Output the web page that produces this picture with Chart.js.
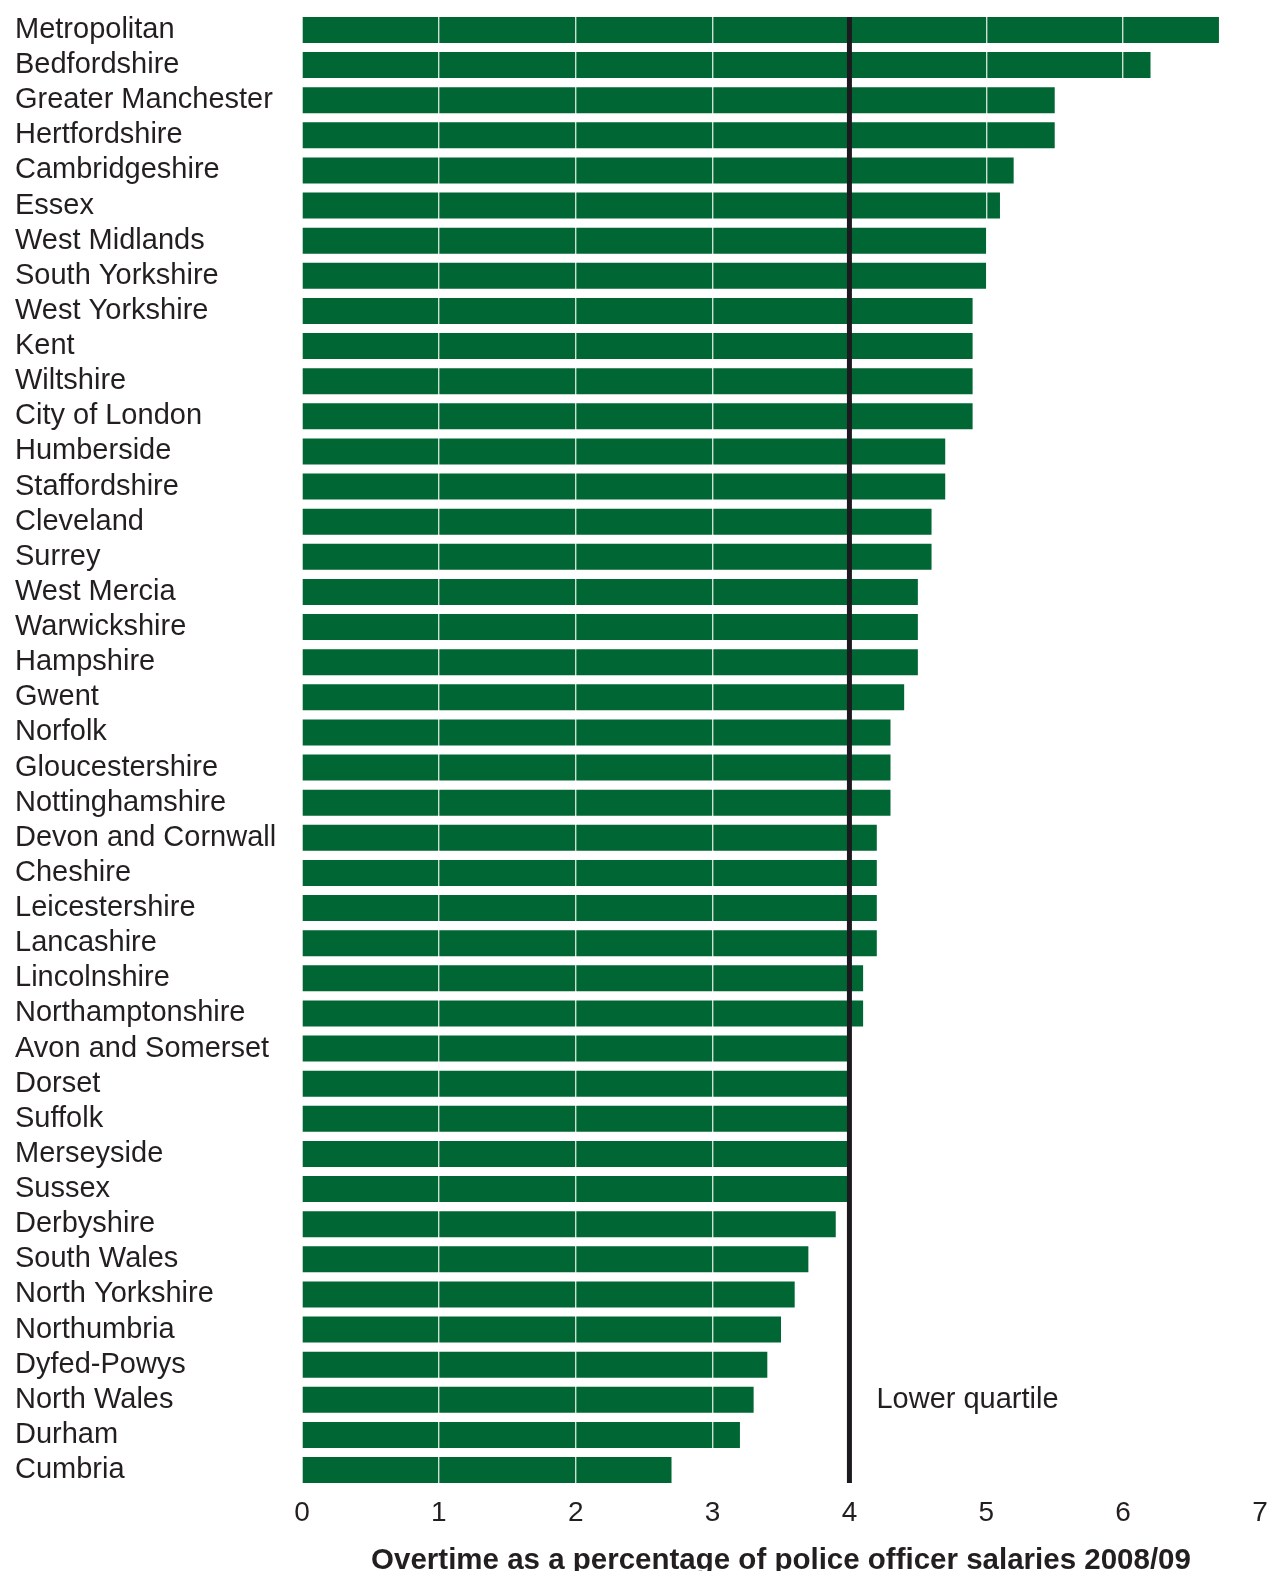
<!DOCTYPE html>
<html>
<head>
<meta charset="utf-8">
<script src="https://cdn.jsdelivr.net/npm/chart.js@4.4.1/dist/chart.umd.min.js"></script>
<style>
  html, body { margin: 0; padding: 0; background: #fff; overflow: hidden; }
  #wrap { width: 1269px; height: 1571px; }
</style>
</head>
<body>
<div id="wrap"><canvas id="myChart"></canvas></div>
<script>
// forces, top to bottom
var forces = [
  'Metropolitan', 'Bedfordshire', 'Greater Manchester', 'Hertfordshire', 'Cambridgeshire',
  'Essex', 'West Midlands', 'South Yorkshire', 'West Yorkshire', 'Kent', 'Wiltshire',
  'City of London', 'Humberside', 'Staffordshire', 'Cleveland', 'Surrey', 'West Mercia',
  'Warwickshire', 'Hampshire', 'Gwent', 'Norfolk', 'Gloucestershire', 'Nottinghamshire',
  'Devon and Cornwall', 'Cheshire', 'Leicestershire', 'Lancashire', 'Lincolnshire',
  'Northamptonshire', 'Avon and Somerset', 'Dorset', 'Suffolk', 'Merseyside', 'Sussex',
  'Derbyshire', 'South Wales', 'North Yorkshire', 'Northumbria', 'Dyfed-Powys',
  'North Wales', 'Durham', 'Cumbria'
];

// overtime as % of salaries 2008/09
var overtime = [
  6.7, 6.2, 5.5, 5.5, 5.2,
  5.1, 5.0, 5.0, 4.9, 4.9, 4.9,
  4.9, 4.7, 4.7, 4.6, 4.6, 4.5,
  4.5, 4.5, 4.4, 4.3, 4.3, 4.3,
  4.2, 4.2, 4.2, 4.2, 4.1,
  4.1, 4.0, 4.0, 4.0, 4.0, 4.0,
  3.9, 3.7, 3.6, 3.5, 3.4,
  3.3, 3.2, 2.7
];

var xTicks = [0, 1, 2, 3, 4, 5, 6, 7];
var lowerQuartile = 4;
var quartileLabel = 'Lower quartile';
var quartileLabelRow = 'North Wales';

var textColor = '#231f20';
var fontFamily = '"Liberation Sans", Arial, Helvetica, sans-serif';

// black line at the lower quartile + its label
var quartilePlugin = {
  id: 'quartile',
  afterDraw: function(chart) {
    var c = chart.ctx;
    var x = chart.scales.x.getPixelForValue(lowerQuartile);
    var bars = chart.getDatasetMeta(0).data;
    var first = bars[0], last = bars[bars.length - 1];
    c.save();
    c.strokeStyle = '#1c1a1f';
    c.lineWidth = 5;
    c.beginPath();
    c.moveTo(x, first.y - first.height / 2);
    c.lineTo(x, last.y + last.height / 2);
    c.stroke();
    c.fillStyle = textColor;
    c.font = '29px ' + fontFamily;
    c.textAlign = 'left';
    c.textBaseline = 'middle';
    c.fillText(quartileLabel, x + 27, chart.scales.y.getPixelForValue(forces.indexOf(quartileLabelRow)));
    c.restore();
  }
};

var ctx = document.getElementById('myChart').getContext('2d');

// eslint-disable-next-line no-unused-vars
var chart = new Chart(ctx, {
  type: 'bar',
  data: {
    labels: forces,
    datasets: [{
      label: 'Overtime',
      backgroundColor: '#006633',
      borderWidth: 0,
      data: overtime,
      barPercentage: 0.74,
      categoryPercentage: 1
    }]
  },
  options: {
    indexAxis: 'y',
    responsive: true,
    maintainAspectRatio: false,
    animation: false,
    layout: { padding: { left: 15, right: 9, top: 12.4, bottom: 0 } },
    plugins: {
      legend: { display: false },
      tooltip: { enabled: false }
    },
    scales: {
      x: {
        type: 'linear',
        min: 0,
        max: 7,
        afterBuildTicks: function(scale) {
          scale.ticks = xTicks.map(function(v) { return { value: v }; });
        },
        afterFit: function(scale) { scale.height = 83.4; },
        grid: {
          z: 1,
          drawTicks: false,
          lineWidth: 1.4,
          color: function(c) {
            return (c.tick && (c.tick.value === 0 || c.tick.value === 7)) ? 'rgba(0,0,0,0)' : 'rgba(255,255,255,0.8)';
          }
        },
        border: { display: false },
        ticks: {
          color: textColor,
          padding: 0,
          font: { family: fontFamily, size: 28, lineHeight: 1.85 }
        },
        title: {
          display: true,
          text: 'Overtime as a percentage of police officer salaries 2008/09',
          color: textColor,
          padding: 0,
          font: { family: fontFamily, size: 29.5, weight: 'bold', lineHeight: 0.7 }
        }
      },
      y: {
        afterFit: function(scale) { scale.width = 287; },
        grid: { display: false },
        border: { display: false },
        ticks: {
          color: textColor,
          crossAlign: 'far',
          autoSkip: false,
          padding: 0,
          font: { family: fontFamily, size: 29, lineHeight: 0.8 }
        }
      }
    }
  },
  plugins: [quartilePlugin]
});
</script>
</body>
</html>
